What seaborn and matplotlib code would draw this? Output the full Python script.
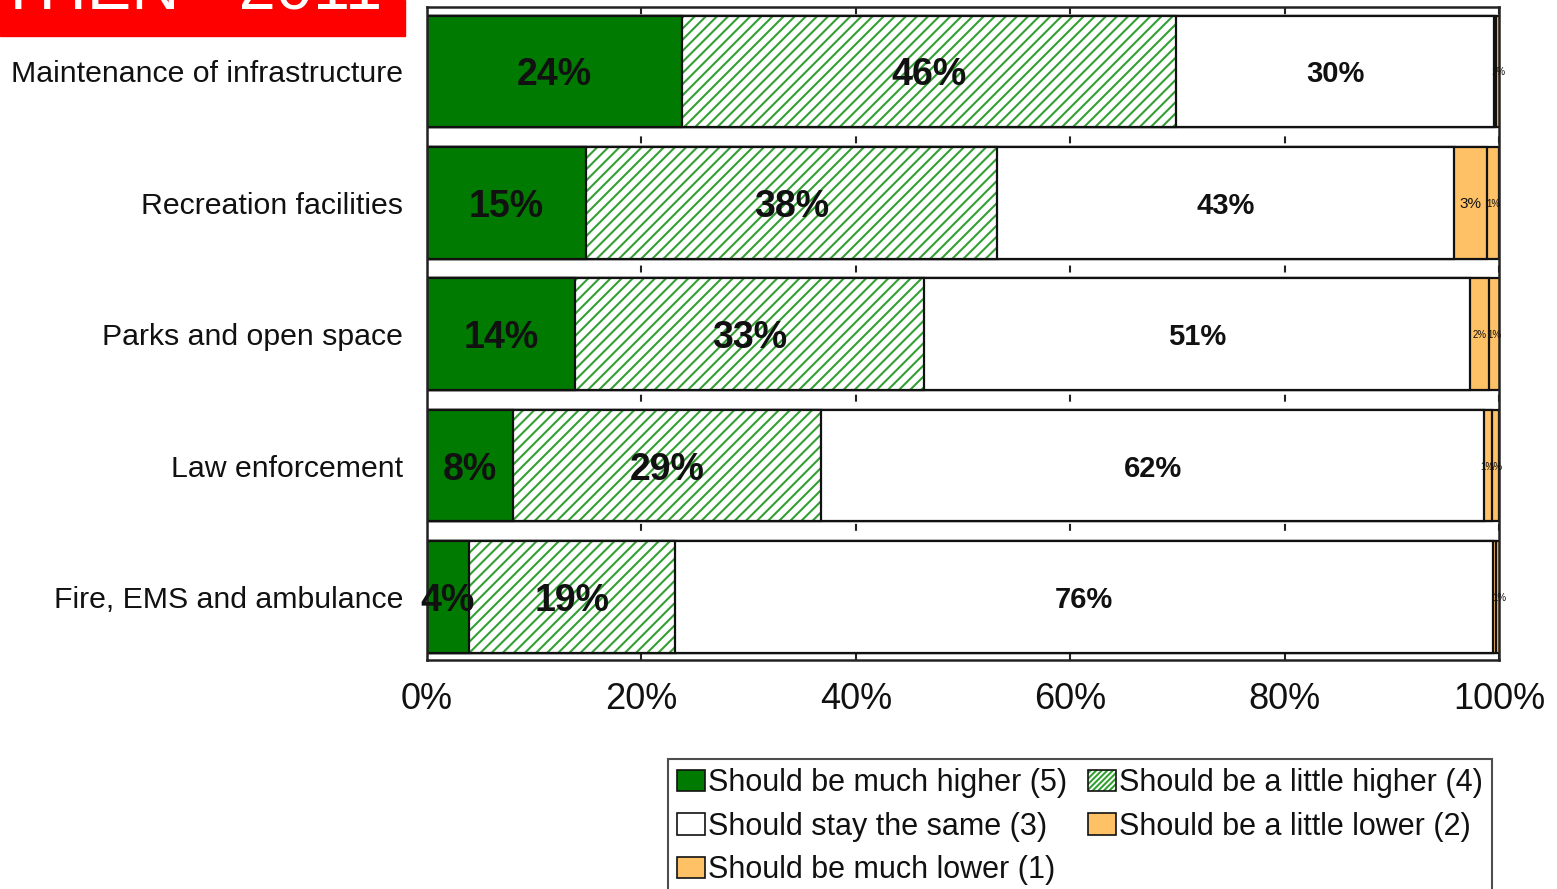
import matplotlib
matplotlib.use("Agg")
import matplotlib.pyplot as plt
from matplotlib.patches import Patch, Rectangle
import numpy as np
import seaborn as sns

# data (percent of respondents)
services = ["Maintenance of infrastructure", "Recreation facilities",
            "Parks and open space", "Law enforcement", "Fire, EMS and ambulance"]
much_higher = [23.8, 14.8, 13.8, 8.0, 3.9]      # (5)
little_higher = [46.1, 38.4, 32.6, 28.8, 19.2]  # (4)
stay_same = [29.6, 42.6, 50.9, 61.8, 76.3]      # (3)
little_lower = [0.2, 3.1, 1.8, 0.7, 0.3]        # (2)
much_lower = [0.5, 1.1, 1.0, 0.7, 0.6]          # (1)
legend_labels = ["Should be much higher (5)", "Should be a little higher (4)",
                 "Should stay the same (3)", "Should be a little lower (2)",
                 "Should be much lower (1)"]
xticks = [0, 20, 40, 60, 80, 100]

GREEN = "#007a00"
HATCH_GREEN = "#34a034"
ORANGE = "#ffc166"
EDGE = "#111111"

sns.set_theme(style="white")
plt.rcParams["font.family"] = ["Liberation Sans", "DejaVu Sans"]
plt.rcParams["hatch.linewidth"] = 1.5
plt.rcParams["lines.scale_dashes"] = False

fig = plt.figure(figsize=(15.57, 8.89), dpi=100)
ax = fig.add_axes([0.2742, 0.2576, 0.6886, 0.7345])

segs = np.array([much_higher, little_higher, stay_same, little_lower, much_lower])
cum = np.cumsum(segs, axis=0)  # cum[0] = end of (5), cum[4] = total

bw = 0.85
lw = 1.6
# draw cumulative bars from longest to shortest so each covers the previous
sns.barplot(x=cum[4], y=services, orient="h", color=ORANGE, saturation=1,
            edgecolor=EDGE, linewidth=lw, width=bw, ax=ax, zorder=2)
sns.barplot(x=cum[3], y=services, orient="h", color=ORANGE, saturation=1,
            edgecolor=EDGE, linewidth=lw, width=bw, ax=ax, zorder=2)
sns.barplot(x=cum[2], y=services, orient="h", color="white", saturation=1,
            edgecolor=EDGE, linewidth=lw, width=bw, ax=ax, zorder=2)
sns.barplot(x=cum[1], y=services, orient="h", color="white", saturation=1,
            edgecolor=HATCH_GREEN, linewidth=0, hatch="///", width=bw, ax=ax, zorder=2)
sns.barplot(x=cum[1], y=services, orient="h", color=EDGE, fill=False,
            linewidth=lw, width=bw, ax=ax, zorder=2)
sns.barplot(x=cum[0], y=services, orient="h", color=GREEN, saturation=1,
            edgecolor=EDGE, linewidth=lw, width=bw, ax=ax, zorder=2)

# percentage labels
starts = cum - segs
for k in range(5):
    for i in range(len(services)):
        v = segs[k, i]
        xc = starts[k, i] + v / 2
        if k < 2:
            kw = dict(fontsize=27, fontweight="bold")
        elif k == 2:
            kw = dict(fontsize=21, fontweight="bold")
        else:
            if v < 0.5:
                continue
            kw = dict(fontsize=11 if v >= 2.5 else 7)
        ax.text(xc, i, f"{max(1, round(v))}%", ha="center", va="center_baseline",
                color="#111111", zorder=5, **kw)

ax.set_xlim(0, 100)
ax.set_ylim(4.48, -0.49)
ax.set_xticks(xticks)
ax.set_xticklabels([f"{t}%" for t in xticks], fontsize=26, color="#111111")
ax.tick_params(axis="x", length=0, pad=16)
ax.tick_params(axis="y", length=0, pad=17, labelsize=21.8, labelcolor="#111111")
ax.set_xlabel("")
ax.set_ylabel("")

# short grid marks that show only in the gaps between bars
ax.grid(axis="x", color="#222222", linewidth=1.5,
        linestyle=(0, (5.0, 88.0)), zorder=0)
ax.grid(axis="y", visible=False)
ax.set_axisbelow(True)
for sp in ax.spines.values():
    sp.set_color("#222222")
    sp.set_linewidth(1.8)

# legend laid out row by row
handles = [
    Patch(facecolor=GREEN, edgecolor=EDGE, linewidth=1.2),
    (Patch(facecolor="white", edgecolor=HATCH_GREEN, hatch="//////", linewidth=0),
     Patch(fill=False, edgecolor=EDGE, linewidth=1.2)),
    Patch(facecolor="white", edgecolor=EDGE, linewidth=1.2),
    Patch(facecolor=ORANGE, edgecolor=EDGE, linewidth=1.2),
    Patch(facecolor=ORANGE, edgecolor=EDGE, linewidth=1.2),
]
order = [0, 2, 4, 1, 3]
leg = fig.legend([handles[j] for j in order], [legend_labels[j] for j in order],
                 ncol=2, loc="upper left", bbox_to_anchor=(0.429, 0.146),
                 fontsize=22, frameon=True, fancybox=False, borderpad=0.3,
                 handlelength=0.9, handleheight=0.7, handletextpad=0.1,
                 columnspacing=0.7, labelspacing=0.44, borderaxespad=0)
leg.get_frame().set_edgecolor("#222222")
leg.get_frame().set_linewidth(1.5)
for t in leg.get_texts():
    t.set_color("#111111")

# red banner cut off at the top left
fig.patches.append(Rectangle((0, 1 - 36 / 889), 405 / 1557, 36 / 889,
                             transform=fig.transFigure, color="#ff0000", zorder=0))
fig.text(382 / 1557, 1 - 10 / 889, "THEN - 2011", color="white", fontsize=48,
         ha="right", va="baseline")

fig.savefig("out.png", dpi=100)
